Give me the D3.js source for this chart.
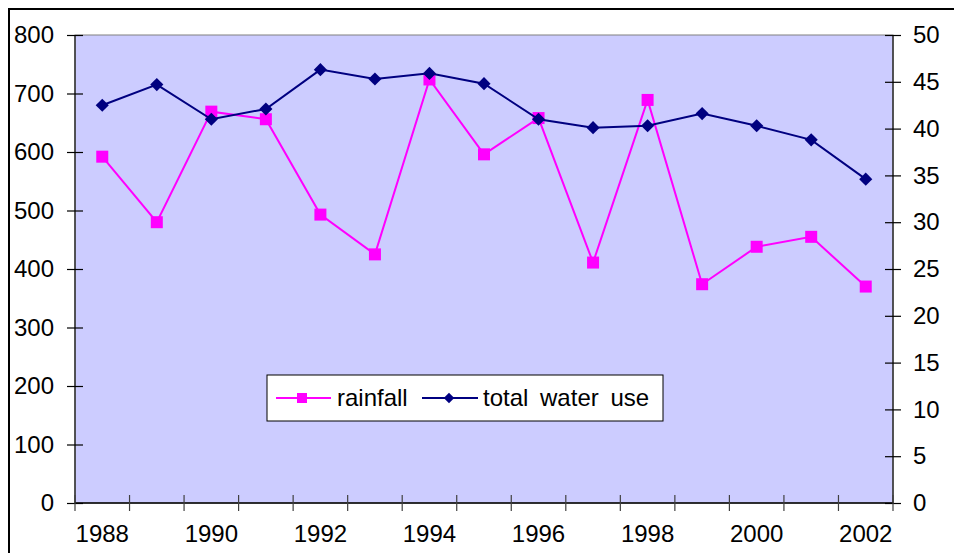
<!DOCTYPE html>
<html>
<head>
<meta charset="utf-8">
<script src="https://cdn.jsdelivr.net/npm/d3@7"></script>
<style>
  body { margin: 0; background: #fff; }
  svg { display: block; }
  text { font-family: "Liberation Sans", Arial, sans-serif; }
</style>
</head>
<body>
<div class="chart"></div>
<script>
// data
var years = ["1988","1989","1990","1991","1992","1993","1994","1995","1996","1997","1998","1999","2000","2001","2002"];
var rainfall = [592, 480, 669, 656, 493, 425, 724, 596, 658, 411, 689, 374, 438, 455, 370];
var waterUse = [42.5, 44.7, 41.0, 42.1, 46.3, 45.3, 45.9, 44.8, 41.0, 40.1, 40.3, 41.6, 40.3, 38.8, 34.6];
var leftTicks = [0, 100, 200, 300, 400, 500, 600, 700, 800];
var rightTicks = [0, 5, 10, 15, 20, 25, 30, 35, 40, 45, 50];
var xLabels = ["1988","1990","1992","1994","1996","1998","2000","2002"];

var w = 954, h = 553;
var pLeft = 75, pRight = 893, pTop = 35, pBottom = 503;

var svg = d3.select(".chart").append("svg")
    .attr("width", w).attr("height", h);

// outer chart frame (cropped on right and bottom)
svg.append("rect")
    .attr("x", 9).attr("y", 9)
    .attr("width", w + 20).attr("height", h + 20)
    .attr("fill", "#fff")
    .attr("stroke", "#000")
    .attr("stroke-width", 2);

var x = d3.scaleBand().domain(years).range([pLeft, pRight]);
var yL = d3.scaleLinear().domain([0, 800]).range([pBottom, pTop]);
var yR = d3.scaleLinear().domain([0, 50]).range([pBottom, pTop]);

// plot area
svg.append("rect")
    .attr("x", pLeft).attr("y", pTop)
    .attr("width", pRight - pLeft).attr("height", pBottom - pTop)
    .attr("fill", "#ccccff")
    .attr("stroke", "#808080")
    .attr("stroke-width", 1);

// left axis
var gL = svg.append("g").attr("transform", "translate(" + pLeft + ",0)")
    .call(d3.axisLeft(yL).tickValues(leftTicks).tickSizeInner(8).tickSizeOuter(0).tickPadding(13));
gL.selectAll(".tick line").attr("x2", 8).attr("x1", -8);
// right axis
var gR = svg.append("g").attr("transform", "translate(" + pRight + ",0)")
    .call(d3.axisRight(yR).tickValues(rightTicks).tickSizeInner(8).tickSizeOuter(0).tickPadding(12));
gR.selectAll(".tick line").attr("x2", 8).attr("x1", -8);
// bottom axis: ticks on category boundaries
var bounds = years.map(function(d){ return x(d); }).concat([pRight]);
var gB = svg.append("g");
gB.append("line")
    .attr("x1", pLeft).attr("x2", pRight)
    .attr("y1", pBottom).attr("y2", pBottom)
    .attr("stroke", "#000").attr("stroke-width", 1.5);
gB.selectAll("line.tk").data(bounds).enter().append("line")
    .attr("class", "tk")
    .attr("x1", function(d){ return d; }).attr("x2", function(d){ return d; })
    .attr("y1", pBottom - 8).attr("y2", pBottom + 8)
    .attr("stroke", "#404040").attr("stroke-width", 1.2);
gB.selectAll("text").data(xLabels).enter().append("text")
    .attr("x", function(d){ return x(d) + x.bandwidth() / 2; })
    .attr("y", 542)
    .attr("text-anchor", "middle")
    .attr("font-size", "24px")
    .attr("fill", "#000")
    .text(function(d){ return d; });

[gL, gR].forEach(function(g){
    g.selectAll(".domain").attr("stroke", "#303030").attr("stroke-width", 1.5);
    g.selectAll(".tick line").attr("stroke", "#000").attr("stroke-width", 1.2);
    g.selectAll(".tick text").attr("font-size", "24px").attr("fill", "#000")
        .attr("font-family", "Liberation Sans, Arial, sans-serif");
});
gL.select(".domain").attr("d", "M0," + pTop + "V" + pBottom);
gR.select(".domain").attr("d", "M0," + pTop + "V" + pBottom);

var cx = function(d, i){ return x(years[i]) + x.bandwidth() / 2; };

// rainfall (left axis)
svg.append("path")
    .datum(rainfall)
    .attr("fill", "none")
    .attr("stroke", "#ff00ff")
    .attr("stroke-width", 2)
    .attr("d", d3.line().x(cx).y(function(d){ return yL(d); }));
svg.selectAll("rect.rain").data(rainfall).enter().append("rect")
    .attr("class", "rain")
    .attr("x", function(d, i){ return cx(d, i) - 6; })
    .attr("y", function(d){ return yL(d) - 6; })
    .attr("width", 12).attr("height", 12)
    .attr("fill", "#ff00ff");

// total water use (right axis)
svg.append("path")
    .datum(waterUse)
    .attr("fill", "none")
    .attr("stroke", "#000080")
    .attr("stroke-width", 2)
    .attr("d", d3.line().x(cx).y(function(d){ return yR(d); }));
svg.selectAll("path.use").data(waterUse).enter().append("path")
    .attr("class", "use")
    .attr("d", d3.symbol().type(d3.symbolDiamond2).size(110))
    .attr("transform", function(d, i){ return "translate(" + cx(d, i) + "," + yR(d) + ")"; })
    .attr("fill", "#000080");

// legend
var lg = svg.append("g");
lg.append("rect")
    .attr("x", 267).attr("y", 375).attr("width", 396).attr("height", 46)
    .attr("fill", "#fff").attr("stroke", "#000").attr("stroke-width", 1);
lg.append("line").attr("x1", 276).attr("x2", 331).attr("y1", 398).attr("y2", 398)
    .attr("stroke", "#ff00ff").attr("stroke-width", 2);
lg.append("rect").attr("x", 297).attr("y", 393).attr("width", 10).attr("height", 10)
    .attr("fill", "#ff00ff");
lg.append("text").attr("x", 337).attr("y", 406).attr("font-size", "24px").text("rainfall");
lg.append("line").attr("x1", 422).attr("x2", 478).attr("y1", 398).attr("y2", 398)
    .attr("stroke", "#000080").attr("stroke-width", 2);
lg.append("path").attr("d", d3.symbol().type(d3.symbolDiamond2).size(70))
    .attr("transform", "translate(449,398)").attr("fill", "#000080");
lg.append("text").attr("x", 483).attr("y", 406).attr("font-size", "24px")
    .attr("word-spacing", "5px").text("total water use");
</script>
</body>
</html>
